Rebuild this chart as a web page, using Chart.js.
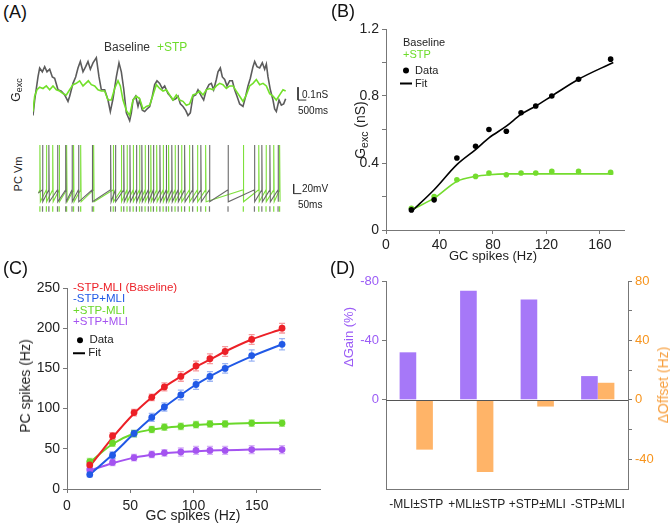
<!DOCTYPE html>
<html>
<head>
<meta charset="utf-8">
<script src="https://cdn.jsdelivr.net/npm/chart.js@4.4.1/dist/chart.umd.min.js"></script>
<style>
  body { margin: 0; background: #fff; font-family: "Liberation Sans", Arial, sans-serif; }
  #fig { position: relative; width: 670px; height: 526px; overflow: hidden; }
  canvas { position: absolute; }
  .t { position: absolute; white-space: nowrap; line-height: 1; transform: translateY(-50%); color: #222; }
  .c { position: absolute; white-space: nowrap; line-height: 1; transform: translate(-50%, -50%); color: #222; }
  .r { position: absolute; white-space: nowrap; line-height: 1; transform: translate(-50%, -50%) rotate(-90deg); color: #222; }
  .p { position: absolute; font-size: 18px; line-height: 1; color: #111; }
  sub { font-size: 75%; vertical-align: -0.25em; }
  .dot { display: inline-block; width: 6px; height: 6px; border-radius: 50%; background: #000; }
  .ln { display: inline-block; width: 12px; height: 1.6px; background: #000; }
</style>
</head>
<body>
<div id="fig">
  <canvas id="gexc" width="300" height="77" style="left:33px;top:50px"></canvas>
  <canvas id="vm" width="300" height="85" style="left:33px;top:135px"></canvas>
  <canvas id="chB" width="335" height="265" style="left:335px;top:0px"></canvas>
  <canvas id="chC" width="335" height="261" style="left:0px;top:265px"></canvas>
  <canvas id="chD" width="335" height="261" style="left:335px;top:265px"></canvas>

  <div class="p" style="left:3px;top:3px">(A)</div>
  <div class="p" style="left:331px;top:2px">(B)</div>
  <div class="p" style="left:3px;top:259px">(C)</div>
  <div class="p" style="left:330px;top:259px">(D)</div>

  <!-- panel A text -->
  <div class="t" style="left:104px;top:47px;font-size:12px;color:#333">Baseline</div>
  <div class="t" style="left:157px;top:47px;font-size:12px;color:#6ddc2a">+STP</div>
  <div class="r" style="left:17px;top:90px;font-size:12px">G<sub>exc</sub></div>
  <div class="r" style="left:18px;top:174px;font-size:11px">PC Vm</div>
  <div class="t" style="left:302px;top:95px;font-size:10px">0.1nS</div>
  <div class="t" style="left:298px;top:111px;font-size:10px">500ms</div>
  <div class="t" style="left:302px;top:189px;font-size:10px">20mV</div>
  <div class="t" style="left:298px;top:205px;font-size:10px">50ms</div>

  <!-- panel B text -->
  <div class="t" style="left:403px;top:42px;font-size:11px">Baseline</div>
  <div class="t" style="left:403px;top:54px;font-size:11px;color:#6ddc2a">+STP</div>
  <div class="t" style="left:403px;top:70px;font-size:11px"><span class="dot"></span>&nbsp; Data</div>
  <div class="t" style="left:400px;top:83px;font-size:11px"><span class="ln" style="vertical-align:middle"></span> Fit</div>
  <div class="c" style="left:493px;top:255px;font-size:13px">GC spikes (Hz)</div>
  <div class="r" style="left:361px;top:130px;font-size:14px">G<sub>exc</sub> (nS)</div>

  <!-- panel C text -->
  <div class="t" style="left:73px;top:288px;font-size:11.5px;color:#ec2027">-STP-MLI (Baseline)</div>
  <div class="t" style="left:73px;top:299px;font-size:11.5px;color:#2159e6">-STP+MLI</div>
  <div class="t" style="left:73px;top:310.5px;font-size:11.5px;color:#6ad82a">+STP-MLI</div>
  <div class="t" style="left:73px;top:322px;font-size:11.5px;color:#a453f0">+STP+MLI</div>
  <div class="t" style="left:77px;top:340px;font-size:11.5px"><span class="dot"></span>&nbsp; Data</div>
  <div class="t" style="left:73px;top:353px;font-size:11.5px"><span class="ln" style="vertical-align:middle"></span> Fit</div>
  <div class="c" style="left:193px;top:515px;font-size:14px">GC spikes (Hz)</div>
  <div class="r" style="left:25px;top:386px;font-size:14px">PC spikes (Hz)</div>

  <!-- panel D text -->
  <div class="r" style="left:348px;top:337px;font-size:13px;color:#9b5cf6">ΔGain (%)</div>
  <div class="r" style="left:663px;top:385px;font-size:14px;color:#f7a040">ΔOffset (Hz)</div>
</div>

<script>
const FONT = '"Liberation Sans", Arial, sans-serif';
Chart.defaults.font.family = FONT;
Chart.defaults.animation = false;
Chart.defaults.responsive = false;
Chart.defaults.plugins.legend.display = false;
Chart.defaults.plugins.tooltip.enabled = false;

const GREEN = '#74dc2e';

// ---- panel A: Gexc traces (time s, conductance nS)
const gexcBase = [[0,0.09],[0.1,0.21],[0.3,0.39],[0.4,0.46],[0.56,0.43],[0.7,0.47],[0.84,0.43],[1.0,0.45],
  [1.16,0.39],[1.3,0.38],[1.5,0.29],[1.7,0.28],[1.9,0.25],[2.1,0.20],[2.2,0.24],[2.4,0.34],[2.56,0.39],
  [2.7,0.46],[2.84,0.51],[3.0,0.43],[3.16,0.47],[3.3,0.51],[3.44,0.45],[3.6,0.50],[3.8,0.54],[3.96,0.39],
  [4.1,0.29],[4.3,0.29],[4.5,0.21],[4.64,0.12],[4.8,0.22],[5.0,0.39],[5.16,0.50],[5.3,0.43],[5.44,0.30],
  [5.6,0.11],[5.7,0.08],[5.8,0.05],[5.9,0.11],[6.0,0.21],[6.16,0.24],[6.3,0.16],[6.4,0.21],[6.56,0.13],
  [6.7,0.12],[6.84,0.14],[7.0,0.16],[7.16,0.24],[7.3,0.33],[7.44,0.36],[7.6,0.34],[7.76,0.30],[7.9,0.32],
  [8.1,0.26],[8.24,0.24],[8.4,0.21],[8.56,0.22],[8.7,0.24],[8.84,0.18],[9.0,0.16],[9.16,0.13],[9.3,0.09],
  [9.44,0.11],[9.6,0.24],[9.76,0.25],[9.9,0.29],[10.1,0.24],[10.24,0.21],[10.4,0.29],[10.56,0.33],[10.7,0.34],
  [10.84,0.29],[11.0,0.37],[11.1,0.43],[11.24,0.46],[11.36,0.39],[11.5,0.37],[11.64,0.32],[11.8,0.36],
  [11.96,0.36],[12.1,0.29],[12.24,0.24],[12.4,0.18],[12.6,0.16],[12.76,0.24],[12.9,0.32],[13.04,0.38],
  [13.2,0.47],[13.3,0.51],[13.44,0.47],[13.6,0.46],[13.76,0.50],[13.9,0.45],[14.0,0.49],[14.1,0.39],
  [14.24,0.29],[14.4,0.21],[14.5,0.14],[14.6,0.12],[14.76,0.21],[14.9,0.17],[15.04,0.18],[15.16,0.22]];
const gexcStp = [[0,0.12],[0.1,0.24],[0.24,0.29],[0.4,0.31],[0.6,0.30],[0.8,0.32],[1.0,0.29],[1.2,0.32],
  [1.4,0.29],[1.6,0.28],[1.8,0.26],[2.0,0.25],[2.2,0.29],[2.4,0.33],[2.6,0.34],[2.8,0.36],[3.0,0.32],
  [3.16,0.34],[3.32,0.36],[3.5,0.33],[3.7,0.32],[3.9,0.29],[4.1,0.28],[4.3,0.28],[4.5,0.21],[4.7,0.21],
  [4.9,0.30],[5.1,0.36],[5.24,0.32],[5.4,0.21],[5.6,0.13],[5.8,0.09],[6.0,0.21],[6.2,0.24],[6.4,0.22],
  [6.6,0.14],[6.8,0.16],[7.0,0.17],[7.2,0.25],[7.4,0.33],[7.6,0.30],[7.8,0.28],[8.0,0.29],[8.2,0.25],
  [8.4,0.21],[8.6,0.25],[8.8,0.21],[9.0,0.20],[9.2,0.17],[9.4,0.18],[9.6,0.25],[9.8,0.26],[10.0,0.28],
  [10.2,0.25],[10.4,0.29],[10.6,0.30],[10.8,0.29],[11.0,0.32],[11.2,0.34],[11.4,0.33],[11.6,0.30],
  [11.8,0.32],[12.0,0.32],[12.2,0.28],[12.4,0.24],[12.6,0.20],[12.8,0.25],[13.0,0.32],[13.2,0.34],
  [13.4,0.37],[13.6,0.33],[13.8,0.34],[14.0,0.32],[14.2,0.26],[14.4,0.24],[14.6,0.21],[14.8,0.25],
  [15.0,0.29],[15.16,0.28]];
// scale bar: 0.1 nS / 500 ms
const gBarT = 15.9, gBarV = 0.21, gBarDV = 0.1, gBarDT = 0.5;

// ---- panel A: PC Vm spike times (ms)
const spikesBase = [28, 69, 125, 178, 219, 261, 350, 469, 500, 554, 594, 636, 671, 713, 746, 788, 829,
  865, 906, 948, 1000, 1053, 1109, 1229, 1400, 1448, 1500, 1553];
const spikesStp = [11, 53, 94, 136, 184, 229, 275, 359, 486, 538, 575, 615, 656, 692, 729, 767, 809,
  844, 886, 928, 979, 1031, 1084, 1328, 1428, 1475, 1525, 1563];
const vmStart = -70, vmPeak = 30, vmThresh = -63, vmReset = -88, rasterLevel = -103;
const vBarT = 1654, vBarV = -71, vBarDV = 20, vBarDT = 50;

// ---- panel B
const bX = [19, 36, 53, 67, 77, 90, 101, 112, 124, 144, 168];
const bBase = [0.12, 0.18, 0.43, 0.50, 0.60, 0.59, 0.70, 0.74, 0.80, 0.90, 1.02];
const bStp = [0.13, 0.20, 0.30, 0.32, 0.34, 0.33, 0.34, 0.34, 0.35, 0.35, 0.345];
const bFitX = [19, 36, 53, 67, 77, 90, 101, 112, 124, 144, 170];
const bFitBase = [0.11, 0.24, 0.39, 0.48, 0.55, 0.62, 0.69, 0.74, 0.80, 0.90, 1.00];
const bFitStp = [0.12, 0.19, 0.29, 0.32, 0.33, 0.335, 0.335, 0.335, 0.335, 0.335, 0.335];
const bTicksX = [0, 40, 80, 120, 160];
const bTicksY = [0, 0.2, 0.4, 0.6, 0.8, 1.0, 1.2];
const bLabelsY = [0, 0.4, 0.8, 1.2];

// ---- panel C
const cX = [18, 36, 53, 67, 77, 90, 102, 113, 125, 146, 170];
const cRed = [30, 66, 95, 114, 127, 140, 153, 162, 171, 186, 200];
const cBlue = [18, 42, 69, 89, 102, 117, 130, 140, 150, 166, 180];
const cGreen = [34, 57, 69, 74, 77, 78, 80, 81, 81, 82, 82];
const cPurple = [24, 33, 39, 43, 45, 46, 48, 48, 48, 49, 49];
const cRedFit = [28, 64, 94, 114, 127, 140, 152, 161, 171, 186, 199];
const cBlueFit = [18, 43, 69, 89, 102, 117, 130, 140, 150, 165, 180];
const cGreenFit = [33, 56, 69, 74, 76, 78, 79.5, 80.5, 81, 82, 82.4];
const cPurpleFit = [23, 32, 39, 42.5, 44.5, 46, 47, 48, 48.3, 49, 49.5];
const cRedErr = [4, 4, 4, 4, 5, 6, 6, 6, 6, 6, 6];
const cBlueErr = [3, 4, 4, 5, 5, 6, 6, 6, 6, 7, 7];
const cGreenErr = [4, 4, 4, 4, 4, 4, 4, 4, 4, 4, 4];
const cPurpleErr = [4, 4, 4, 4, 4, 5, 5, 5, 5, 5, 5];
const cTicksX = [0, 50, 100, 150];
const cTicksY = [0, 50, 100, 150, 200, 250];

// ---- panel D
const dCategories = ['-MLI±STP', '+MLI±STP', '+STP±MLI', '-STP±MLI'];
const dGain = [-32, -73.5, -67.5, -16];
const dOffset = [-33.5, -48.5, -4.5, 11.5];
const dTicksGain = [-80, -40, 0];
const dTicksOffset = [80, 60, 40, 20, 0, -20, -40];
const dLabelsOffset = [80, 40, 0, -40];

function pts(xs, ys) {
  return xs.map((x, i) => ({ x: x, y: ys[i] }));
}
function pairs(arr) {
  return arr.map(p => ({ x: p[0], y: p[1] }));
}
function setTicks(list) {
  return (s) => { s.ticks = list.map(v => ({ value: v })); };
}
function hidden(min, max) {
  return { type: 'linear', display: false, min: min, max: max };
}
function axisStyle(o) {
  o.grid = Object.assign({ drawOnChartArea: false, color: '#777', tickLength: 4, lineWidth: 1 }, o.grid || {});
  o.border = { color: '#777', width: 1 };
  o.ticks = Object.assign({ color: '#222', font: { size: 14 }, padding: 3, autoSkip: false, maxRotation: 0 }, o.ticks || {});
  return o;
}

// Vm trace from spike times
function vmTrace(spikes) {
  const out = [{ x: 0, y: vmStart }];
  spikes.forEach(t => {
    out.push({ x: t, y: vmThresh }, { x: t, y: vmPeak }, { x: t + 3, y: vmReset });
  });
  return out;
}

// ---------- A: Gexc
new Chart(document.getElementById('gexc'), {
  type: 'scatter',
  data: {
    datasets: [
      { data: pairs(gexcStp), showLine: true, pointRadius: 0, borderColor: '#72e02a', borderWidth: 1.6 },
      { data: pairs(gexcBase), showLine: true, pointRadius: 0, borderColor: '#5c5c5c', borderWidth: 1.6 },
      { data: [{ x: gBarT, y: gBarV + gBarDV }, { x: gBarT, y: gBarV }, { x: gBarT + gBarDT, y: gBarV }],
        showLine: true, pointRadius: 0, borderColor: '#333', borderWidth: 1 }
    ]
  },
  options: {
    layout: { padding: 0 },
    scales: { x: hidden(0, 18), y: hidden(0, 0.6) }
  }
});

// ---------- A: Vm
new Chart(document.getElementById('vm'), {
  type: 'scatter',
  data: {
    datasets: [
      { data: vmTrace(spikesBase), showLine: true, pointRadius: 0, borderColor: '#6a6a6a', borderWidth: 1.1 },
      { data: vmTrace(spikesStp), showLine: true, pointRadius: 0, borderColor: '#7ee03c', borderWidth: 1.1 },
      { data: spikesBase.map(t => ({ x: t, y: rasterLevel })), pointStyle: 'line', rotation: 90,
        pointRadius: 2.8, borderColor: '#777', borderWidth: 1.2 },
      { data: spikesStp.map(t => ({ x: t, y: rasterLevel })), pointStyle: 'line', rotation: 90,
        pointRadius: 2.8, borderColor: '#7ee03c', borderWidth: 1.2 },
      { data: [{ x: vBarT, y: vBarV + vBarDV }, { x: vBarT, y: vBarV }, { x: vBarT + vBarDT, y: vBarV }],
        showLine: true, pointRadius: 0, borderColor: '#333', borderWidth: 1 }
    ]
  },
  options: {
    layout: { padding: 0 },
    scales: { x: hidden(0, 1875), y: hidden(-115, 40) }
  }
});

// ---------- B
new Chart(document.getElementById('chB'), {
  type: 'scatter',
  data: {
    datasets: [
      { data: pts(bX, bBase), pointRadius: 2.8, backgroundColor: '#000', borderWidth: 0 },
      { data: pts(bX, bStp), pointRadius: 2.8, backgroundColor: GREEN, borderWidth: 0 },
      { data: pts(bFitX, bFitBase), showLine: true, pointRadius: 0, borderColor: '#000', borderWidth: 1.6,
        cubicInterpolationMode: 'monotone' },
      { data: pts(bFitX, bFitStp), showLine: true, pointRadius: 0, borderColor: GREEN, borderWidth: 1.6,
        cubicInterpolationMode: 'monotone' }
    ]
  },
  options: {
    layout: { padding: { top: 29, right: 46, left: 0, bottom: 0 } },
    scales: {
      x: axisStyle({ type: 'linear', min: 0, max: 178, afterBuildTicks: setTicks(bTicksX),
        afterFit: (s) => { s.height = 35; } }),
      y: axisStyle({ type: 'linear', min: 0, max: 1.2, afterBuildTicks: setTicks(bTicksY),
        afterFit: (s) => { s.width = 51; },
        ticks: { callback: (v) => bLabelsY.includes(v) ? String(v) : '' } })
    }
  }
});

// ---------- C
const cSeries = [
  { vals: cRed, fit: cRedFit, err: cRedErr, color: '#ec2027', errColor: 'rgba(236,32,39,0.45)' },
  { vals: cBlue, fit: cBlueFit, err: cBlueErr, color: '#2159e6', errColor: 'rgba(33,89,230,0.45)' },
  { vals: cGreen, fit: cGreenFit, err: cGreenErr, color: '#6ad82a', errColor: 'rgba(106,216,42,0.5)' },
  { vals: cPurple, fit: cPurpleFit, err: cPurpleErr, color: '#a453f0', errColor: 'rgba(164,83,240,0.45)' }
];

const errorBars = {
  id: 'errorBars',
  beforeDatasetsDraw(chart) {
    const ctx = chart.ctx;
    const x = chart.scales.x, y = chart.scales.y;
    cSeries.forEach(s => {
      ctx.save();
      ctx.strokeStyle = s.errColor;
      ctx.lineWidth = 1.3;
      cX.forEach((xv, i) => {
        const px = x.getPixelForValue(xv);
        const top = y.getPixelForValue(s.vals[i] + s.err[i]);
        const bot = y.getPixelForValue(s.vals[i] - s.err[i]);
        ctx.beginPath();
        ctx.moveTo(px, top); ctx.lineTo(px, bot);
        ctx.moveTo(px - 3, top); ctx.lineTo(px + 3, top);
        ctx.moveTo(px - 3, bot); ctx.lineTo(px + 3, bot);
        ctx.stroke();
      });
      ctx.restore();
    });
  }
};

const cDatasets = [];
cSeries.forEach(s => {
  cDatasets.push({ data: pts(cX, s.vals), pointRadius: 3.4, backgroundColor: s.color, borderWidth: 0 });
});
cSeries.forEach(s => {
  cDatasets.push({ data: pts(cX, s.fit), showLine: true, pointRadius: 0, borderColor: s.color, borderWidth: 2,
    cubicInterpolationMode: 'monotone' });
});

new Chart(document.getElementById('chC'), {
  type: 'scatter',
  data: { datasets: cDatasets },
  plugins: [errorBars],
  options: {
    layout: { padding: { top: 23, right: 15, left: 0, bottom: 0 } },
    scales: {
      x: axisStyle({ type: 'linear', min: 0, max: 200, afterBuildTicks: setTicks(cTicksX),
        afterFit: (s) => { s.height = 37; }, ticks: { padding: 5 } }),
      y: axisStyle({ type: 'linear', min: 0, max: 250, afterBuildTicks: setTicks(cTicksY),
        afterFit: (s) => { s.width = 67; } })
    }
  }
});

// ---------- D
// horizontal line at zero across the plot
const zeroLine = {
  id: 'zeroLine',
  afterDatasetsDraw(chart) {
    const ctx = chart.ctx, a = chart.chartArea;
    const y0 = Math.round(chart.scales.y.getPixelForValue(0)) + 0.5;
    ctx.save();
    ctx.strokeStyle = '#555';
    ctx.lineWidth = 1;
    ctx.beginPath();
    ctx.moveTo(a.left, y0);
    ctx.lineTo(a.right, y0);
    ctx.stroke();
    ctx.restore();
  }
};

new Chart(document.getElementById('chD'), {
  type: 'bar',
  data: {
    labels: dCategories,
    datasets: [
      { data: dGain, yAxisID: 'y', backgroundColor: '#a678f8', categoryPercentage: 0.55, barPercentage: 1 },
      { data: dOffset, yAxisID: 'y1', backgroundColor: '#ffb468', categoryPercentage: 0.55, barPercentage: 1 }
    ]
  },
  plugins: [zeroLine],
  options: {
    layout: { padding: { top: 16, right: 0, left: 0, bottom: 0 } },
    scales: {
      x: axisStyle({ type: 'category', afterFit: (s) => { s.height = 37; },
        grid: { drawTicks: false, tickLength: 0 }, ticks: { font: { size: 12 }, padding: 8 } }),
      y: axisStyle({ type: 'linear', position: 'left', reverse: true, min: -80, max: 60,
        afterBuildTicks: setTicks(dTicksGain), afterFit: (s) => { s.width = 51; },
        ticks: { color: '#9b5cf6', font: { size: 13 } } }),
      y1: axisStyle({ type: 'linear', position: 'right', min: -60, max: 80,
        afterBuildTicks: setTicks(dTicksOffset), afterFit: (s) => { s.width = 42; },
        ticks: { color: '#f7941d', font: { size: 13 },
          callback: (v) => dLabelsOffset.includes(v) ? String(v) : '' } })
    }
  }
});
</script>
</body>
</html>
